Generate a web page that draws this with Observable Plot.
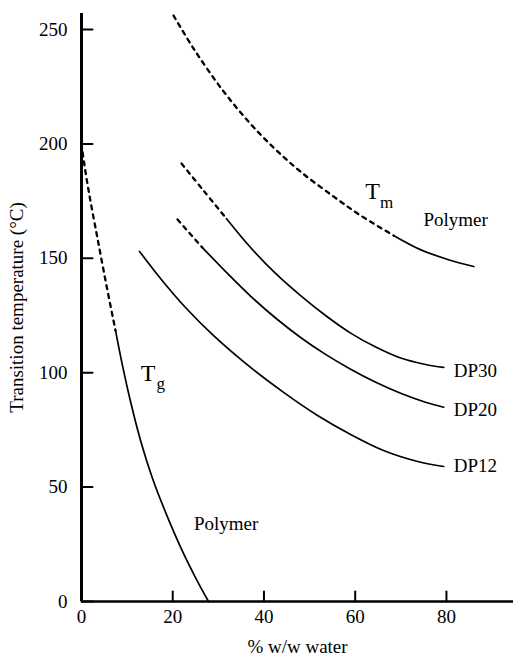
<!DOCTYPE html>
<html>
<head>
<meta charset="utf-8">
<script src="https://cdn.jsdelivr.net/npm/d3@7"></script>
<script src="https://cdn.jsdelivr.net/npm/@observablehq/plot@0.6"></script>
<style>
  html, body { margin: 0; padding: 0; background: #fff; }
  svg text { font-family: "Liberation Serif", "Times New Roman", serif; }
</style>
</head>
<body>
<div id="chart"></div>
<script>
// ---- data ----
const xTicks = [0, 20, 40, 60, 80];
const yTicks = [0, 50, 100, 150, 200, 250];

// Tg polymer
const tgDashX = [0, 0.66, 1.75, 3.51, 5.48, 7.46];
const tgDashY = [200.2, 190.6, 177.4, 158.7, 138.1, 118.4];
const tgSolidX = [7.46, 8.99, 10.75, 12.94, 15.57, 18.64, 22.15, 25.22, 27.85];
const tgSolidY = [118.4, 103.1, 87.4, 70.4, 53.8, 38.0, 21.9, 9.6, 0];

// Tm polymer
const tmDashX = [20.18, 24.56, 30.48, 36.4, 42.1, 48.0, 55.0, 61.2, 68.4];
const tmDashY = [256.1, 241.7, 224.7, 210.2, 198.4, 187.9, 177.4, 168.7, 160.0];
const tmSolidX = [68.4, 74.3, 80.3, 86.0];
const tmSolidY = [160.0, 153.8, 149.5, 146.4];

// DP30
const dp30DashX = [21.93, 26.75, 31.8];
const dp30DashY = [191.4, 179.6, 167.3];
const dp30SolidX = [31.8, 37.06, 42.54, 48.03, 53.5, 59.0, 64.5, 69.96, 75.4, 79.4];
const dp30SolidY = [167.3, 154.7, 143.4, 133.7, 125.0, 117.3, 111.2, 106.4, 103.6, 102.3];

// DP20
const dp20DashX = [21.05, 26.5];
const dp20DashY = [167.0, 154.7];
const dp20SolidX = [26.5, 31.6, 37.06, 42.54, 48.03, 53.5, 59.0, 64.5, 69.96, 75.4, 79.4];
const dp20SolidY = [154.7, 144.2, 133.5, 123.9, 115.4, 108.0, 101.5, 95.8, 91.0, 87.1, 84.9];

// DP12
const dp12SolidX = [12.72, 17.32, 22.8, 28.9, 37.06, 44.3, 51.75, 59.0, 66.2, 73.7, 79.4];
const dp12SolidY = [153.0, 141.2, 128.5, 116.3, 102.3, 91.4, 81.3, 73.0, 66.0, 61.2, 59.0];

// annotations
const bigLabels = [
  {text: "T", x: 14.6, y: 99.7},
  {text: "T", x: 63.8, y: 179.3}
];
const subLabels = [
  {text: "g", x: 17.4, y: 95.3},
  {text: "m", x: 66.9, y: 174.3}
];
const midLabels = [
  {text: "Polymer", x: 31.7, y: 33.7},
  {text: "Polymer", x: 82.0, y: 167.0}
];
const endLabels = [
  {text: "DP30", x: 81.6, y: 100.7},
  {text: "DP20", x: 81.6, y: 83.8},
  {text: "DP12", x: 81.6, y: 59.4}
];

// ---- build tables ----
function rows(key, xs, ys) { return xs.map((x, i) => ({key, x, y: ys[i]})); }
const dashed = [
  ...rows("tg", tgDashX, tgDashY),
  ...rows("tm", tmDashX, tmDashY),
  ...rows("dp30", dp30DashX, dp30DashY),
  ...rows("dp20", dp20DashX, dp20DashY)
];
const solid = [
  ...rows("tg", tgSolidX, tgSolidY),
  ...rows("tm", tmSolidX, tmSolidY),
  ...rows("dp30", dp30SolidX, dp30SolidY),
  ...rows("dp20", dp20SolidX, dp20SolidY),
  ...rows("dp12", dp12SolidX, dp12SolidY)
];

const serif = "'Liberation Serif', 'Times New Roman', serif";
const tickLine = {draw(context, l) { context.moveTo(0, 0); context.lineTo(0, -l); }};

const chart = Plot.plot({
  width: 513,
  height: 656,
  marginTop: 13,
  marginBottom: 55,
  marginLeft: 81,
  marginRight: 0,
  style: {fontFamily: serif, fontSize: "19px", color: "black", background: "white"},
  x: {domain: [0, 94.7]},
  y: {domain: [0, 257]},
  marks: [
    Plot.axisX({ticks: xTicks, tickSize: 0, tickPadding: 8, fontFamily: serif, fontVariant: "normal", label: "% w/w water", labelAnchor: "center", labelOffset: 51, labelArrow: "none"}),
    Plot.axisY({ticks: yTicks, tickSize: 0, tickPadding: 14, fontFamily: serif, fontVariant: "normal", label: "Transition temperature (°C)", labelAnchor: "center", labelOffset: 72, labelArrow: "none"}),
    Plot.vector(yTicks, {x: 0, y: d => d, length: 11, rotate: 90, anchor: "start", shape: tickLine, stroke: "black", strokeWidth: 2}),
    Plot.vector(xTicks.filter(d => d > 0), {x: d => d, y: 0, length: 10, rotate: 0, anchor: "start", shape: tickLine, stroke: "black", strokeWidth: 2}),
    Plot.ruleX([0], {stroke: "black", strokeWidth: 3}),
    Plot.ruleY([0], {stroke: "black", strokeWidth: 2.5}),
    Plot.line(dashed, {x: "x", y: "y", z: "key", curve: "catmull-rom", stroke: "black", strokeWidth: 2.3, strokeDasharray: "4,5"}),
    Plot.line(solid, {x: "x", y: "y", z: "key", curve: "catmull-rom", stroke: "black", strokeWidth: 1.7}),
    Plot.text(bigLabels, {x: "x", y: "y", text: "text", fontSize: 24, fontFamily: serif}),
    Plot.text(subLabels, {x: "x", y: "y", text: "text", fontSize: 17, fontFamily: serif}),
    Plot.text(midLabels, {x: "x", y: "y", text: "text", fontSize: 19, fontFamily: serif}),
    Plot.text(endLabels, {x: "x", y: "y", text: "text", textAnchor: "start", fontSize: 19, fontFamily: serif})
  ]
});
document.getElementById("chart").appendChild(chart);
</script>
</body>
</html>
